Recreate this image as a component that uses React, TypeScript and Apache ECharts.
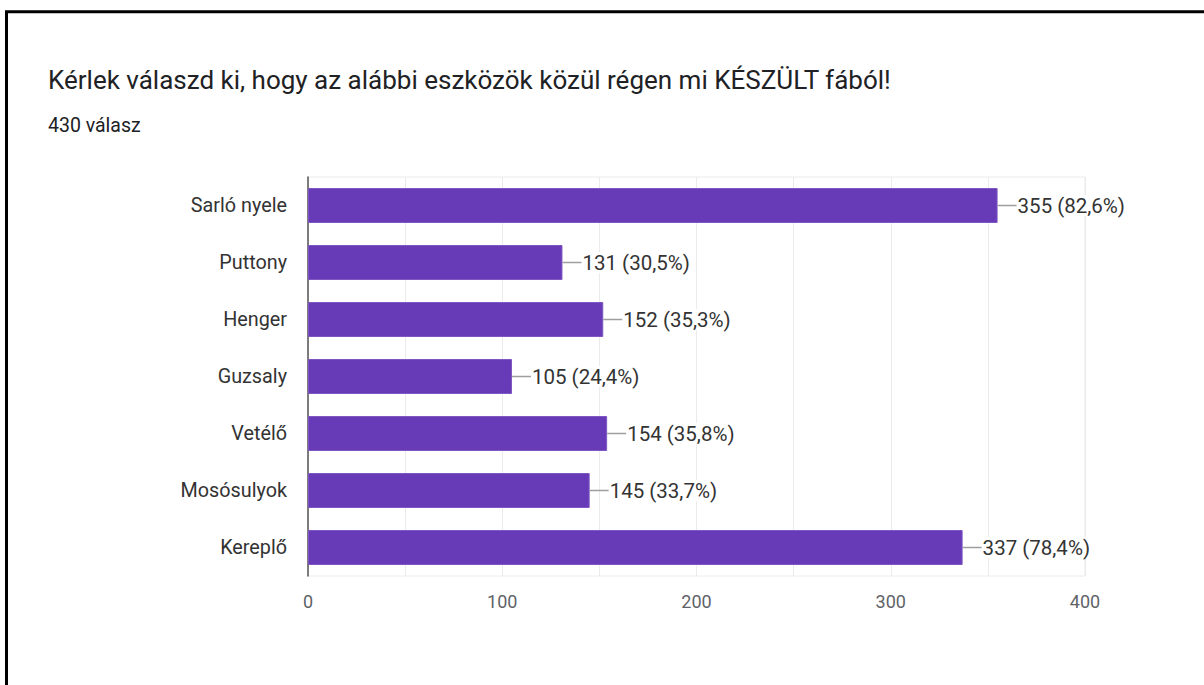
import React, { useEffect, useRef } from "react";
import * as echarts from "echarts";

const categories = ["Sarló nyele", "Puttony", "Henger", "Guzsaly", "Vetélő", "Mosósulyok", "Kereplő"];
const counts = [355, 131, 152, 105, 154, 145, 337];
const percents = ["82,6%", "30,5%", "35,3%", "24,4%", "35,8%", "33,7%", "78,4%"];
const titleText = "Kérlek válaszd ki, hogy az alábbi eszközök közül régen mi KÉSZÜLT fából!";
const subtitleText = "430 válasz";

const FONT = "Roboto, 'Noto Sans', sans-serif";

export default function App() {
  const ref = useRef<HTMLDivElement>(null);
  useEffect(() => {
    const chart = echarts.init(ref.current!, null, { renderer: "svg" });
    chart.setOption({
      animation: false,
      backgroundColor: "#ffffff",
      textStyle: { fontFamily: FONT },
      title: [
        {
          text: titleText,
          left: 43,
          top: 62,
          padding: 5,
          textStyle: { fontSize: 26, fontWeight: "normal", color: "#202124", fontFamily: FONT },
        },
        {
          text: subtitleText,
          left: 43,
          top: 110,
          padding: 5,
          textStyle: { fontSize: 19.5, fontWeight: "normal", color: "#202124", fontFamily: FONT },
        },
      ],
      graphic: [
        {
          type: "polyline",
          shape: { points: [[6.5, 690], [6.5, 11.7], [1210, 11.7]] },
          style: { stroke: "#000", lineWidth: 3, fill: null },
          silent: true,
        },
      ],
      grid: {
        left: 308,
        right: 119,
        top: 177,
        bottom: 109,
        show: true,
        borderColor: "#ebebeb",
        borderWidth: 1,
      },
      xAxis: {
        type: "value",
        min: 0,
        max: 400,
        interval: 100,
        axisLine: { show: false },
        axisTick: { show: false },
        axisLabel: { fontSize: 18, color: "#5f6368", margin: 16, fontFamily: FONT },
        splitLine: { show: true, lineStyle: { color: "#ebebeb", width: 1 } },
        minorTick: { show: false, splitNumber: 2 },
        minorSplitLine: { show: true, lineStyle: { color: "#ebebeb", width: 1 } },
      },
      yAxis: {
        type: "category",
        data: categories,
        inverse: true,
        axisLine: { show: true, lineStyle: { color: "#555", width: 1.5 } },
        axisTick: { show: false },
        axisLabel: { fontSize: 19.8, color: "#333", margin: 21, fontFamily: FONT },
        splitLine: { show: false },
      },
      series: [
        {
          type: "bar",
          data: counts,
          barWidth: 35,
          itemStyle: { color: "#673ab7", borderColor: "#7e57c2", borderWidth: 1 },
          silent: true,
        },
        {
          type: "custom",
          data: counts.map((v, i) => [v, i]),
          silent: true,
          z: 5,
          renderItem: (params: any, api: any) => {
            const v = api.value(0);
            const i = api.value(1);
            const p = api.coord([v, i]);
            return {
              type: "group",
              children: [
                {
                  type: "line",
                  shape: { x1: p[0], y1: p[1], x2: p[0] + 19, y2: p[1] },
                  style: { stroke: "#9e9e9e", lineWidth: 1.5 },
                },
                {
                  type: "text",
                  x: p[0] + 20,
                  y: p[1],
                  style: {
                    text: `${counts[i]} (${percents[i]})`,
                    fill: "#333",
                    fontSize: 20.5,
                    fontFamily: FONT,
                    verticalAlign: "middle",
                    align: "left",
                    backgroundColor: "#fff",
                  },
                },
              ],
            };
          },
        },
      ],
    });
    return () => chart.dispose();
  }, []);
  return (
    <div
      ref={ref}
      style={{ position: "fixed", left: 0, top: 0, width: 1204, height: 685 }}
    />
  );
}
